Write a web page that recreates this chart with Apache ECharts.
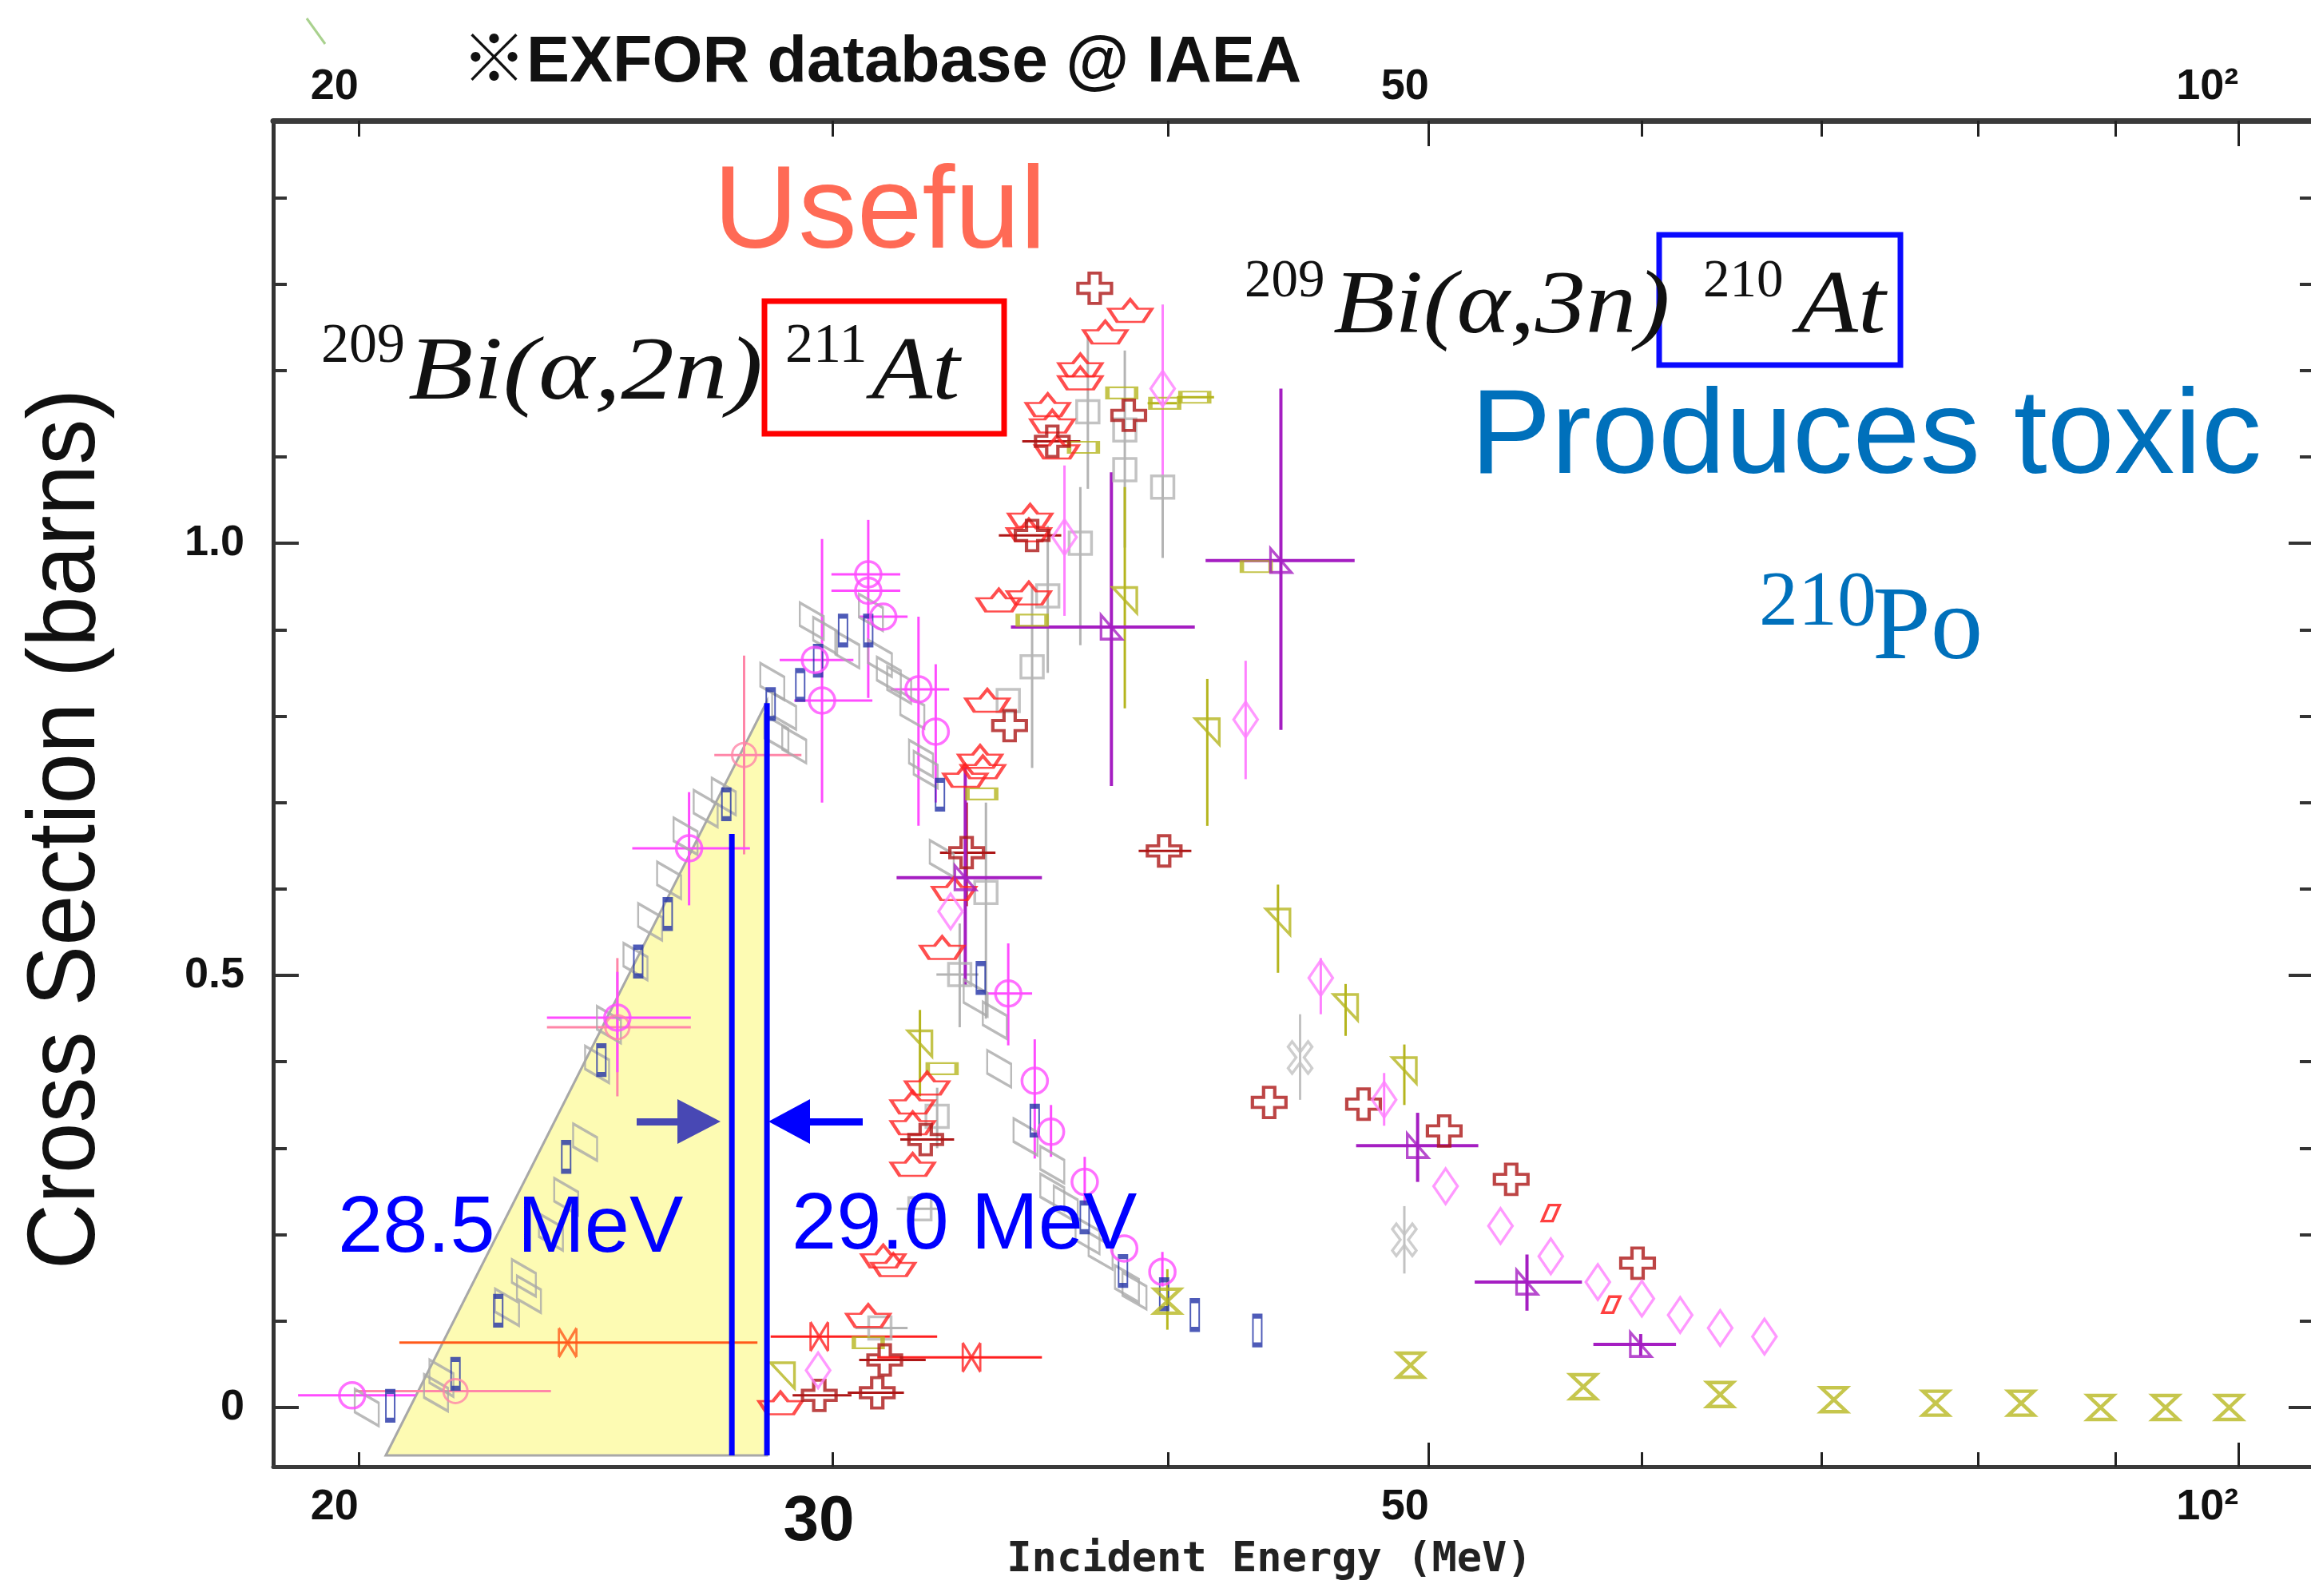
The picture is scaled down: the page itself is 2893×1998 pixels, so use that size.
<!DOCTYPE html>
<html>
<head>
<meta charset="utf-8">
<title>209Bi(a,xn) cross sections</title>
<script src="https://cdn.jsdelivr.net/npm/echarts@6/dist/echarts.min.js"></script>
<style>
  html, body { margin: 0; padding: 0; background: #fff; }
  #chart { width: 2893px; height: 1998px; }
</style>
</head>
<body>
<div id="chart"></div>
<script>
// ---- data: [energy MeV, barns, yLow, yHigh, xLow, xHigh] ----
var grayPara = [[20.14,0.0],[21.37,0.017],[21.47,0.034],[22.71,0.116],[23.04,0.150],[23.14,0.131],[23.58,0.203],[23.89,0.244],[24.28,0.307],[24.53,0.397],[24.78,0.443],[25.35,0.516],[25.67,0.562],[26.09,0.610],[26.46,0.661],[26.92,0.693],[27.34,0.707],[28.5,0.840],[28.6,0.780],[28.79,0.806],[29.04,0.767],[29.48,0.910],[29.82,0.893],[30.39,0.877],[31.01,0.920],[31.25,0.867],[31.49,0.847],[31.77,0.836],[32.13,0.807],[32.37,0.751],[32.5,0.738],[32.95,0.635],[33.92,0.474],[34.48,0.448],[34.61,0.392],[35.4,0.313],[36.22,0.281],[36.22,0.249],[36.64,0.235],[37.33,0.199],[37.75,0.181],[38.61,0.143],[38.86,0.135]];
var blueRect = [[20.55,0.002],[21.73,0.039],[22.54,0.112],[23.89,0.290],[24.62,0.402],[25.41,0.516],[26.06,0.571],[27.4,0.698],[28.46,0.814],[29.19,0.836],[29.64,0.864],[30.28,0.899],[30.94,0.899],[32.9,0.709],[34.07,0.497],[35.68,0.332],[37.24,0.220],[38.48,0.158],[39.86,0.131],[40.92,0.107],[43.17,0.089]];
var magCirc = [[19.89,0.014,null,null,18.99,21.0],[24.96,0.451,0.388,0.504,23.5,26.58],[26.54,0.647,0.581,0.712,25.28,27.96],[29.56,0.865,null,null,28.68,30.55],[29.74,0.818,0.700,1.005,29.04,31.05],[30.94,0.964,0.821,1.027,29.98,31.8],[30.94,0.945,null,null,29.98,31.8],[31.34,0.915,null,null,30.7,32.0],[32.3,0.831,0.673,0.915,31.54,33.16],[32.78,0.782,0.700,0.860,null,null],[34.88,0.479,0.419,0.537,34.2,35.6],[35.68,0.378,0.288,0.426,null,null],[36.18,0.319,0.290,0.350,null,null],[37.24,0.261,0.235,0.290,null,null],[38.52,0.184,null,null,null,null],[39.8,0.157,0.140,0.180,null,null]];
var pinkCirc = [[21.73,0.019,null,null,19.94,23.58],[24.96,0.440,0.36,0.52,23.5,26.58],[27.82,0.755,0.64,0.87,27.12,29.22]];
var redCrown = [[38.72,1.269],[37.9,1.244],[37.1,1.206],[37.1,1.191],[36.08,1.160],[36.22,1.141],[36.36,1.111],[35.54,1.032],[35.5,1.015],[34.6,0.934],[35.5,0.942],[34.26,0.818],[34.05,0.753],[34.13,0.741],[33.62,0.731],[33.3,0.600],[32.96,0.532],[32.54,0.375],[32.14,0.353],[32.14,0.329],[32.14,0.281],[31.61,0.165],[31.34,0.175],[30.94,0.106],[28.7,0.005]];
var darkRedCross = [[37.56,1.295],[38.67,1.148],[36.22,1.118,null,null,35.3,37.1],[35.6,1.009,null,null,34.6,36.5],[34.92,0.789],[33.66,0.642,0.58,0.70,32.9,34.5],[39.86,0.644,null,null,39.0,40.8],[32.5,0.310,null,null,31.8,33.3],[31.38,0.055,null,null,30.7,32.5],[31.18,0.017,null,null,30.4,31.9],[29.67,0.014,null,null,29.0,30.5],[43.61,0.353],[47.28,0.351],[50.66,0.320],[53.65,0.264],[59.78,0.167]];
var graySquare = [[37.34,1.152,1.063,1.240],[38.54,1.131,0.995,1.223],[38.54,1.085],[39.81,1.065,0.983,1.276],[37.1,1.0,0.882,1.065],[36.08,0.939,0.85,1.02],[35.6,0.857,0.74,0.95],[34.88,0.818],[34.22,0.596,0.45,0.70],[33.46,0.501,0.44,0.56,32.8,34.0],[32.82,0.337,0.30,0.37],[32.34,0.230,null,null,31.7,33.0],[31.25,0.092,null,null,30.6,32.0]];
var oliveRect = [[38.44,1.174],[39.88,1.162,null,null,39.3,40.3],[40.92,1.169,null,null,40.3,41.6],[37.2,1.111],[35.6,0.911],[43.13,0.973],[34.1,0.710],[32.96,0.392],[30.94,0.075]];
var oliveTri = [[38.54,0.934,0.809,1.065],[41.36,0.782,0.673,0.843],[32.34,0.421,0.36,0.46],[43.94,0.562,0.503,0.605],[46.56,0.463,0.43,0.49],[48.96,0.390,0.35,0.42],[28.75,0.037]];
var oliveHourglass = [[39.97,0.123,0.09,0.16],[49.22,0.049],[57.07,0.024],[64.16,0.015],[70.72,0.009],[77.16,0.005],[83.02,0.005],[88.86,0.0],[93.94,0.0],[99.2,0.0]];
var pinkDiamond = [[39.81,1.179,1.078,1.276],[42.74,0.796,0.727,0.864],[36.6,1.007,0.916,1.09],[33.2,0.574],[45.58,0.497,0.455,0.520],[48.12,0.356,0.326,0.387],[50.72,0.256],[53.16,0.210],[55.5,0.175],[57.78,0.145],[60.0,0.126],[62.0,0.107],[64.16,0.092],[66.64,0.082],[29.64,0.043]];
var purpleTri = [[38.1,0.903,0.719,1.082,34.96,40.92],[44.05,0.980,0.784,1.179,41.3,46.92],[33.62,0.613,0.489,0.741,31.7,35.9],[49.52,0.303,0.261,0.341,46.98,52.16],[54.38,0.145,0.112,0.177,52.0,57.0],[59.94,0.073,0.06,0.085,57.56,61.78]];
var grayCross = [[44.78,0.405,0.356,0.455],[48.96,0.194,0.155,0.233]];
var redPara = [[55.5,0.225],[58.45,0.119]];
var orangeTie = [[23.92,0.075,null,null,20.71,28.14]];
var redTie = [[29.67,0.082,null,null,28.46,32.82],[33.8,0.058,null,null,31.18,35.9]];

// axis ticks / labels (MeV, barns)
var xMajorTicks = [50, 100];
var xMinorTicks = [20, 30, 40, 60, 70, 80, 90];
var xLabels = [20, 50, 100];
var yMajorTicks = [0, 0.5, 1.0];
var yMinorTicks = [0.1, 0.2, 0.3, 0.4, 0.6, 0.7, 0.8, 0.9, 1.1, 1.2, 1.3, 1.4];

// annotation shapes in data space
var band = { left: 20.47, right: 28.37, apex: 0.817, floor: -0.0555 };
var cutLines = [{ e: 27.53, top: 0.6636 }, { e: 28.37, top: 0.815 }];

var L = Math.log10;
var SANS = '"Liberation Sans", Arial, sans-serif';
var SERIF = '"Liberation Serif", "Times New Roman", serif';

function pts(arr) {
  return arr.map(function (p) { return [L(p[0]), p[1]]; });
}
function errRows(arr) {
  return arr.filter(function (p) { return p.length > 2; }).map(function (p) {
    return [L(p[0]), p[1],
      p[2] == null ? NaN : p[2], p[3] == null ? NaN : p[3],
      p[4] == null ? NaN : L(p[4]), p[5] == null ? NaN : L(p[5])];
  });
}
function errRender(color, w) {
  return function (params, api) {
    var x = api.value(0), y = api.value(1);
    var kids = [];
    var ylo = api.value(2), yhi = api.value(3), xlo = api.value(4), xhi = api.value(5);
    if (isFinite(ylo) && isFinite(yhi)) {
      var a = api.coord([x, ylo]), b = api.coord([x, yhi]);
      kids.push({ type: 'line', shape: { x1: a[0], y1: a[1], x2: b[0], y2: b[1] }, style: { stroke: color, lineWidth: w } });
    }
    if (isFinite(xlo) && isFinite(xhi)) {
      var c = api.coord([xlo, y]), d = api.coord([xhi, y]);
      kids.push({ type: 'line', shape: { x1: c[0], y1: c[1], x2: d[0], y2: d[1] }, style: { stroke: color, lineWidth: w } });
    }
    return { type: 'group', children: kids };
  };
}

var series = [];
function addSet(data, symbol, size, color, bw, ew) {
  var e = errRows(data);
  if (e.length) {
    series.push({ type: 'custom', data: e, renderItem: errRender(color, ew || 3), silent: true, z: 2 });
  }
  series.push({
    type: 'scatter', data: pts(data), symbol: symbol, symbolSize: size, silent: true, z: 3,
    itemStyle: { color: 'rgba(0,0,0,0)', borderColor: color, borderWidth: bw || 3.5 }
  });
}

var P_PARA = 'path://M0 0 L10 6 L10 16 L0 10 Z';
var P_CROWN = 'path://M0 7 L13 7 L20 0 L27 7 L40 7 L32 17 L8 17 Z';
var P_PLUS = 'path://M4 0 H8 V4 H12 V8 H8 V12 H4 V8 H0 V4 H4 Z';
var P_XOUT = 'path://M2 0 L6 4 L10 0 L12 2 L8 6 L12 10 L10 12 L6 8 L2 12 L0 10 L4 6 L0 2 Z';
var P_TRI_UR = 'path://M0 0 L10 0 L10 10 Z';
var P_TRI_LL = 'path://M0 0 L0 10 L10 10 Z';
var P_HOUR = 'path://M0 0 H10 L5 5 L10 10 H0 L5 5 Z';
var P_SPARA = 'path://M4 0 L10 0 L6 10 L0 10 Z';
var P_TIE = 'path://M0 0 L0 10 M10 0 L10 10 M0 0 L10 10 M0 10 L10 0';

addSet(grayPara, P_PARA, [30, 46], '#a9a9a9', 3);
addSet(blueRect, 'rect', [11, 36], '#2232a6', 3.5);
addSet(pinkCirc, 'circle', 30, '#ff86a8', 3);
addSet(magCirc, 'circle', 32, '#ff4cff', 3.5);
addSet(graySquare, 'rect', 28, '#b4b4b4', 3.5);
addSet(oliveRect, 'rect', [36, 14], '#b5b51e', 3.5);
addSet(oliveTri, P_TRI_UR, [30, 32], '#b5b51e', 3.5);
addSet(oliveHourglass, P_HOUR, [32, 30], '#b8b820', 4.5);
addSet(redCrown, P_CROWN, [54, 28], '#ff2222', 3.5);
addSet(darkRedCross, P_PLUS, [42, 38], '#ad1717', 4);
addSet(pinkDiamond, 'diamond', [30, 44], '#ff80ff', 3.5);
addSet(purpleTri, P_TRI_LL, [26, 30], '#a51ec2', 3.5, 4);
addSet(grayCross, P_XOUT, [30, 40], '#c2c2c2', 3.5);
addSet(redPara, P_SPARA, [22, 20], '#ff1010', 3.5);
addSet(orangeTie, P_TIE, [22, 36], '#ff5a1a', 3.5);
addSet(redTie, P_TIE, [22, 36], '#ff2020', 3.5);

var xMin = L(18.59), xMax = L(106.4), yMin = -0.0684, yMax = 1.489;
function xFmt(v) {
  var e = Math.round(Math.pow(10, v));
  return e === 100 ? '10\u00b2' : String(e);
}
function xAxisCfg(pos, ticks, len, labels, lineW, margin) {
  return {
    type: 'value', position: pos, min: xMin, max: xMax, splitLine: { show: false },
    axisLine: { show: lineW > 0, onZero: false, lineStyle: { color: '#3a3a3a', width: lineW } },
    axisTick: { inside: true, length: len, customValues: ticks.map(L), lineStyle: { color: '#222', width: 3 } },
    axisLabel: labels ? { customValues: labels.map(L), formatter: xFmt, align: 'right', margin: margin,
      fontFamily: SANS, fontSize: 54, fontWeight: 'bold', color: '#111' } : { show: false }
  };
}
function yAxisCfg(pos, ticks, len, labels, lineW) {
  return {
    type: 'value', position: pos, min: yMin, max: yMax, splitLine: { show: false },
    axisLine: { show: lineW > 0, onZero: false, lineStyle: { color: '#333', width: lineW } },
    axisTick: { inside: true, length: len, customValues: ticks, lineStyle: { color: '#333', width: 4 } },
    axisLabel: labels ? { customValues: labels, margin: 36, fontFamily: SANS, fontSize: 54, fontWeight: 'bold', color: '#111',
      formatter: function (v) { return v === 0 ? '0' : v.toFixed(1); } } : { show: false }
  };
}

var option = {
  animation: false,
  backgroundColor: '#ffffff',
  grid: { left: 342, right: 0, top: 151, bottom: 162, containLabel: false },
  xAxis: [
    xAxisCfg('bottom', xMajorTicks, 30, xLabels, 5, 24),
    xAxisCfg('bottom', xMinorTicks, 18, null, 0),
    xAxisCfg('top', xMajorTicks, 32, xLabels, 7, 15),
    xAxisCfg('top', xMinorTicks, 20, null, 0)
  ],
  yAxis: [
    yAxisCfg('left', yMajorTicks, 32, yMajorTicks, 5),
    yAxisCfg('left', yMinorTicks, 17, null, 0),
    yAxisCfg('right', yMajorTicks, 28, null, 0),
    yAxisCfg('right', yMinorTicks, 14, null, 0)
  ],
  series: series
};

var chart = echarts.init(document.getElementById('chart'));
chart.setOption(option);

function px(e, v) { return chart.convertToPixel({ seriesIndex: 0 }, [L(e), v]); }
function text(x, y, str, font, color, extra) {
  var el = { type: 'text', x: x, y: y, z: 100,
    style: { text: str, font: font, fill: color, align: 'left', verticalAlign: 'middle' } };
  for (var k in extra) el[k] = extra[k];
  return el;
}

var bandBL = px(band.left, band.floor), bandTop = px(band.right, band.apex), bandBR = px(band.right, band.floor);
var graphics = [
  { type: 'polygon', z: 0, shape: { points: [bandBL, bandTop, bandBR] },
    style: { fill: '#fdfbb3', stroke: '#a8a8a8', lineWidth: 3 } }
];
cutLines.forEach(function (c) {
  var a = px(c.e, c.top), b = px(c.e, band.floor);
  graphics.push({ type: 'line', z: 50, shape: { x1: a[0], y1: a[1], x2: b[0], y2: b[1] },
    style: { stroke: '#0000ff', lineWidth: 7 } });
});

// arrows pointing at the two cut energies
graphics.push(
  { type: 'rect', z: 50, shape: { x: 797, y: 1400, width: 53, height: 9 }, style: { fill: '#4848b4' } },
  { type: 'polygon', z: 50, shape: { points: [[848, 1376], [902, 1404], [848, 1432]] }, style: { fill: '#4848b4' } },
  { type: 'polygon', z: 50, shape: { points: [[962, 1404], [1014, 1376], [1014, 1432]] }, style: { fill: '#0000ff' } },
  { type: 'rect', z: 50, shape: { x: 1012, y: 1400, width: 68, height: 9 }, style: { fill: '#0000ff' } }
);

// texts
graphics.push(
  text(578, 80, '\u203bEXFOR database @ IAEA', 'bold 81px ' + SANS + ', "Noto Sans CJK JP"', '#111'),
  text(893, 269, 'Useful', '147px ' + SANS, '#ff6a55'),
  text(402, 435, '209', '70px ' + SERIF, '#111'),
  text(511, 469, 'Bi(\u03b1,2n)', 'italic 113px ' + SERIF, '#111', { scaleX: 1.18 }),
  text(983, 435, '211', '70px ' + SERIF, '#111'),
  text(1091, 469, 'At', 'italic 113px ' + SERIF, '#111', { scaleX: 1.1 }),
  text(1558, 353, '209', '67px ' + SERIF, '#111'),
  text(1669, 386, 'Bi(\u03b1,3n)', 'italic 113px ' + SERIF, '#111', { scaleX: 1.12 }),
  text(2132, 353, '210', '67px ' + SERIF, '#111'),
  text(2250, 386, 'At', 'italic 113px ' + SERIF, '#111', { scaleX: 1.1 }),
  text(1841, 550, 'Produces toxic', '151px ' + SANS, '#0070bb'),
  text(2202, 756, '210', '98px ' + SERIF, '#0070bb'),
  text(2344, 790, 'Po', '131px ' + SERIF, '#0070bb'),
  text(423, 1539, '28.5 MeV', '101px ' + SANS, '#0000ff'),
  text(991, 1535, '29.0 MeV', '101px ' + SANS, '#0000ff'),
  text(1025, 1906, '30', '80px ' + SANS, '#111', { style: { text: '30', font: 'bold 80px ' + SANS, fill: '#111', align: 'center', verticalAlign: 'middle' } }),
  text(1589, 1953, 'Incident Energy (MeV)', 'bold 52px "DejaVu Sans Mono", monospace', '#222',
    { style: { text: 'Incident Energy (MeV)', font: 'bold 52px "DejaVu Sans Mono", monospace', fill: '#222', align: 'center', verticalAlign: 'middle' } }),
  text(85, 1038, 'Cross Section (barns)', '120px ' + SANS, '#111',
    { rotation: Math.PI / 2, scaleX: 0.95,
      style: { text: 'Cross Section (barns)', font: '120px ' + SANS, fill: '#111', align: 'center', verticalAlign: 'middle' } })
);

// red / blue boxes round the product nuclei
graphics.push(
  { type: 'rect', z: 60, shape: { x: 957, y: 377, width: 300, height: 166 }, style: { fill: 'none', stroke: '#ff0000', lineWidth: 7 } },
  { type: 'rect', z: 60, shape: { x: 2077, y: 294, width: 302, height: 163 }, style: { fill: 'none', stroke: '#0a0aff', lineWidth: 7 } },
  { type: 'line', z: 60, shape: { x1: 384, y1: 23, x2: 407, y2: 55 }, style: { stroke: '#a9d18e', lineWidth: 3 } }
);

chart.setOption({ graphic: { elements: graphics } });
</script>
</body>
</html>
